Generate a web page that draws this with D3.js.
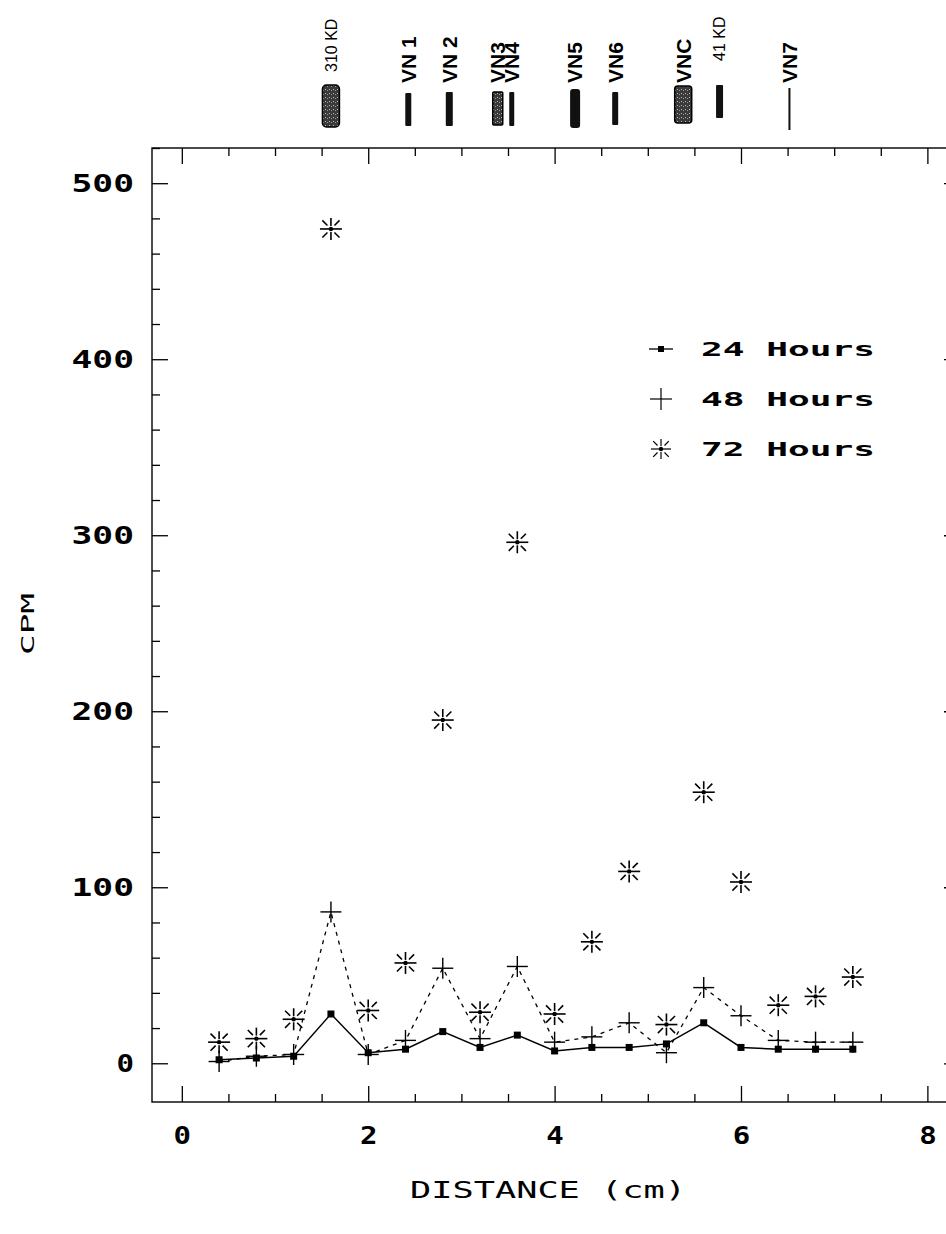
<!DOCTYPE html>
<html>
<head>
<meta charset="utf-8">
<script src="https://cdn.jsdelivr.net/npm/d3@7"></script>
<style>
  body { margin: 0; background: #fff; }
  svg { display: block; }
</style>
</head>
<body>
<script>
// donnees
const distance = [0.4, 0.8, 1.2, 1.6, 2.0, 2.4, 2.8, 3.2, 3.6, 4.0, 4.4, 4.8, 5.2, 5.6, 6.0, 6.4, 6.8, 7.2];
const cpm24 = [2, 3, 4, 28, 6, 8, 18, 9, 16, 7, 9, 9, 11, 23, 9, 8, 8, 8];
const cpm48 = [1, 4, 5, 86, 5, 13, 54, 14, 55, 12, 15, 23, 6, 43, 27, 13, 12, 12];
const cpm72 = [12, 14, 25, 474, 30, 57, 195, 29, 296, 28, 69, 109, 22, 154, 103, 33, 38, 49];
const seriesNames = ['24 Hours', '48 Hours', '72 Hours'];

const xTicks = [0, 2, 4, 6, 8];
const yTicks = [0, 100, 200, 300, 400, 500];

// marqueurs du gel en haut (position en cm)
const markerLabels = ['310 KD', 'VN 1', 'VN 2', 'VN3', 'VN4', 'VN5', 'VN6', 'VNC', '41 KD', 'VN7'];
const markerPos = [1.60, 2.43, 2.87, 3.39, 3.54, 4.22, 4.65, 5.38, 5.77, 6.52];

// style des bandes (largeur px, haut, bas, remplissage)
const bandStyle = {
  '310 KD': {w: 17, y0: 85, y1: 127, fill: 'url(#stip)', rx: 4},
  'VN 1':   {w: 6,  y0: 93, y1: 126, fill: '#111', rx: 1},
  'VN 2':   {w: 7,  y0: 92, y1: 126, fill: '#111', rx: 1},
  'VN3':    {w: 10, y0: 92, y1: 125, fill: 'url(#stip)', rx: 1},
  'VN4':    {w: 5,  y0: 92, y1: 126, fill: '#111', rx: 1},
  'VN5':    {w: 10, y0: 89, y1: 128, fill: '#111', rx: 3},
  'VN6':    {w: 6,  y0: 92, y1: 125, fill: '#111', rx: 1},
  'VNC':    {w: 17, y0: 86, y1: 123, fill: 'url(#stip)', rx: 3},
  '41 KD':  {w: 7,  y0: 85, y1: 118, fill: '#111', rx: 1},
  'VN7':    {w: 2,  y0: 88, y1: 130, fill: '#111', rx: 0}
};

const W = 946, H = 1234;
const plotFont = '"DejaVu Sans Mono", "Liberation Mono", monospace';

const svg = d3.select('body').append('svg')
  .attr('width', W)
  .attr('height', H)
  .style('background', '#fff');

// motif pointille pour les bandes grises
const defs = svg.append('defs');
const pat = defs.append('pattern')
  .attr('id', 'stip')
  .attr('width', 4).attr('height', 4)
  .attr('patternUnits', 'userSpaceOnUse');
pat.append('rect').attr('width', 4).attr('height', 4).attr('fill', '#3a3a3a');
pat.append('rect').attr('x', 1).attr('y', 1).attr('width', 1).attr('height', 1).attr('fill', '#bbb');
pat.append('rect').attr('x', 3).attr('y', 2).attr('width', 1).attr('height', 1).attr('fill', '#999');

// echelles
const x = d3.scaleLinear().domain([-0.32, 8.35]).range([152, 960]);
const y = d3.scaleLinear().domain([-22, 520]).range([1102, 148]);

const pLeft = x.range()[0], pRight = x.range()[1];
const pBottom = y.range()[0], pTop = y.range()[1];

// cadre
svg.append('rect')
  .attr('x', pLeft).attr('y', pTop)
  .attr('width', pRight - pLeft).attr('height', pBottom - pTop)
  .attr('fill', 'none')
  .attr('stroke', '#000')
  .attr('stroke-width', 1.4);

// ticks mineurs
const xMinor = d3.range(0, 8.01, 0.5).filter(v => xTicks.indexOf(v) < 0);
const yMinor = d3.range(0, 521, 20).filter(v => yTicks.indexOf(v) < 0);

function styleAxis(g) {
  g.select('.domain').remove();
  g.selectAll('.tick line').attr('stroke', '#000').attr('stroke-width', 1.3);
}

// axes bas / haut
svg.append('g').attr('transform', 'translate(0,' + pBottom + ')')
  .call(d3.axisBottom(x).tickValues(xMinor).tickSize(-8).tickFormat(''))
  .call(styleAxis);
svg.append('g').attr('transform', 'translate(0,' + pTop + ')')
  .call(d3.axisTop(x).tickValues(xMinor).tickSize(-8).tickFormat(''))
  .call(styleAxis);
svg.append('g').attr('transform', 'translate(0,' + pTop + ')')
  .call(d3.axisTop(x).tickValues(xTicks).tickSize(-16).tickFormat(''))
  .call(styleAxis);

const gX = svg.append('g').attr('transform', 'translate(0,' + pBottom + ')')
  .call(d3.axisBottom(x).tickValues(xTicks).tickSize(-16).tickPadding(24).tickFormat(d3.format('d')))
  .call(styleAxis);

// axes gauche / droite
svg.append('g').attr('transform', 'translate(' + pLeft + ',0)')
  .call(d3.axisLeft(y).tickValues(yMinor).tickSize(-8).tickFormat(''))
  .call(styleAxis);
svg.append('g').attr('transform', 'translate(' + pRight + ',0)')
  .call(d3.axisRight(y).tickValues(yMinor).tickSize(-8).tickFormat(''))
  .call(styleAxis);
svg.append('g').attr('transform', 'translate(' + pRight + ',0)')
  .call(d3.axisRight(y).tickValues(yTicks).tickSize(-16).tickFormat(''))
  .call(styleAxis);

const gY = svg.append('g').attr('transform', 'translate(' + pLeft + ',0)')
  .call(d3.axisLeft(y).tickValues(yTicks).tickSize(-16).tickPadding(18).tickFormat(d3.format('d')))
  .call(styleAxis);

// texte des graduations : police "traceur" large
[gX, gY].forEach(g => {
  g.selectAll('.tick text')
    .attr('fill', '#000')
    .style('font-family', plotFont)
    .style('font-size', '25px')
    .style('font-weight', 'bold')
    .attr('lengthAdjust', 'spacingAndGlyphs')
    .attr('textLength', function(d) { return String(d).length * 22.5 - 5; });
});

// titres des axes
svg.append('text')
  .attr('x', (pLeft + 944) / 2)
  .attr('y', 1198)
  .attr('text-anchor', 'middle')
  .style('font-family', plotFont)
  .style('font-size', '23px')
  .attr('lengthAdjust', 'spacingAndGlyphs')
  .attr('textLength', 276)
  .text('DISTANCE (cm)');

svg.append('text')
  .attr('transform', 'translate(34,624) rotate(-90)')
  .attr('text-anchor', 'middle')
  .style('font-family', plotFont)
  .style('font-size', '18px')
  .attr('lengthAdjust', 'spacingAndGlyphs')
  .attr('textLength', 62)
  .text('CPM');

// series
const pts = k => distance.map((d, i) => ({x: d, y: k[i]}));
const line = d3.line().x(d => x(d.x)).y(d => y(d.y));

svg.append('path')
  .attr('d', line(pts(cpm48)))
  .attr('fill', 'none')
  .attr('stroke', '#000')
  .attr('stroke-width', 1.3)
  .attr('stroke-dasharray', '4,5');

svg.append('path')
  .attr('d', line(pts(cpm24)))
  .attr('fill', 'none')
  .attr('stroke', '#000')
  .attr('stroke-width', 1.4);

function drawSquare(g, cx, cy, s) {
  g.append('rect')
    .attr('x', cx - s / 2).attr('y', cy - s / 2)
    .attr('width', s).attr('height', s)
    .attr('fill', '#000');
}

function drawPlus(g, cx, cy, s, sw) {
  g.append('line').attr('x1', cx - s).attr('x2', cx + s).attr('y1', cy).attr('y2', cy)
    .attr('stroke', '#000').attr('stroke-width', sw);
  g.append('line').attr('x1', cx).attr('x2', cx).attr('y1', cy - s).attr('y2', cy + s)
    .attr('stroke', '#000').attr('stroke-width', sw);
}

function drawStar(g, cx, cy, s, sw) {
  g.append('line').attr('x1', cx - s).attr('x2', cx + s).attr('y1', cy).attr('y2', cy)
    .attr('stroke', '#000').attr('stroke-width', sw);
  [[0, -1], [0, 1]].forEach(([dx, dy]) => {
    g.append('line')
      .attr('x1', cx + dx * 3).attr('y1', cy + dy * 3)
      .attr('x2', cx + dx * s).attr('y2', cy + dy * s)
      .attr('stroke', '#000').attr('stroke-width', sw);
  });
  const r = s * 0.78;
  [[1, 1], [1, -1], [-1, 1], [-1, -1]].forEach(([dx, dy]) => {
    g.append('line')
      .attr('x1', cx + dx * 3.5).attr('y1', cy + dy * 3.5)
      .attr('x2', cx + dx * r).attr('y2', cy + dy * r)
      .attr('stroke', '#000').attr('stroke-width', sw);
  });
  g.append('circle').attr('cx', cx).attr('cy', cy).attr('r', 2.2).attr('fill', '#000');
}

const gPts = svg.append('g');
pts(cpm72).forEach(p => drawStar(gPts, x(p.x), y(p.y), 11, 1.6));
pts(cpm48).forEach(p => drawPlus(gPts, x(p.x), y(p.y), 10.5, 1.4));
pts(cpm24).forEach(p => drawSquare(gPts, x(p.x), y(p.y), 7));

// legende
const legY = [349, 399, 449];
const legX = 661;
const gLeg = svg.append('g');
gLeg.append('line').attr('x1', legX - 12).attr('x2', legX + 12)
  .attr('y1', legY[0]).attr('y2', legY[0]).attr('stroke', '#000').attr('stroke-width', 1.3);
drawSquare(gLeg, legX, legY[0], 6);
drawPlus(gLeg, legX, legY[1], 11, 1.2);
drawStar(gLeg, legX, legY[2], 10, 1.2);

seriesNames.forEach((name, i) => {
  gLeg.append('text')
    .attr('x', 701)
    .attr('y', legY[i])
    .attr('dy', '0.36em')
    .style('font-family', plotFont)
    .style('font-size', '20px')
    .style('font-weight', 'bold')
    .attr('lengthAdjust', 'spacingAndGlyphs')
    .attr('textLength', 174)
    .text(name);
});

// bandes et etiquettes du gel
const gBands = svg.append('g');
markerLabels.forEach((lab, i) => {
  const st = bandStyle[lab];
  const cx = x(markerPos[i]);
  gBands.append('rect')
    .attr('x', cx - st.w / 2).attr('y', st.y0)
    .attr('width', st.w).attr('height', st.y1 - st.y0)
    .attr('rx', st.rx)
    .attr('fill', st.fill)
    .attr('stroke', st.fill === '#111' ? 'none' : '#000')
    .attr('stroke-width', 1.5);

  const small = lab.indexOf('KD') >= 0;
  const baseY = lab === '310 KD' ? 72 : (lab === '41 KD' ? 61 : 83);
  gBands.append('text')
    .attr('transform', 'translate(' + cx + ',' + baseY + ') rotate(-90)')
    .attr('dy', '0.35em')
    .style('font-family', '"Liberation Sans", Arial, sans-serif')
    .style('font-size', small ? '16px' : '21px')
    .style('font-weight', small ? 'normal' : 'bold')
    .text(lab);
});
</script>
</body>
</html>
